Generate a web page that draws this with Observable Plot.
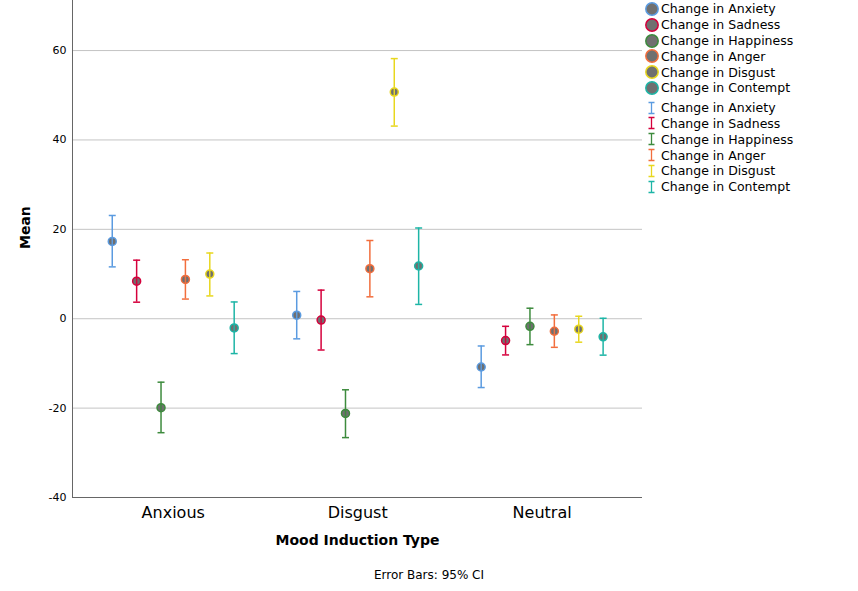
<!DOCTYPE html>
<html>
<head>
<meta charset="utf-8">
<script src="https://cdn.jsdelivr.net/npm/d3@7"></script>
<script src="https://cdn.jsdelivr.net/npm/@observablehq/plot@0.6"></script>
<style>
  html, body { margin: 0; padding: 0; background: white; }
  #wrap { position: relative; width: 858px; height: 591px; font-family: "DejaVu Sans", sans-serif; color: #000; }
  #legend { position: absolute; left: 644px; top: 1px; font-size: 12.5px; }
  .row { display: flex; align-items: center; height: 15.8px; white-space: nowrap; }
  .row svg { flex: none; margin-right: 1px; }
  .gap { height: 4px; }
  #caption { position: absolute; left: 0; width: 858px; top: 567px; text-align: center; font-size: 12px; line-height: 16px; }
</style>
</head>
<body>
<div id="wrap">
  <div id="chart"></div>
  <div id="legend"></div>
  <div id="caption">Error Bars: 95% CI</div>
</div>
<script>
const categories = ["Anxious", "Disgust", "Neutral"];
const series = ["Change in Anxiety", "Change in Sadness", "Change in Happiness", "Change in Anger", "Change in Disgust", "Change in Contempt"];
const colors = ["#5B9BE0", "#D5003C", "#3D8B3D", "#F26E3D", "#E8D71E", "#1DB5A6"];
// rows: series; columns: categories
const means = [
  [17.3, 0.8, -10.8],
  [8.4, -0.3, -4.9],
  [-19.9, -21.2, -1.7],
  [8.8, 11.2, -2.8],
  [10.0, 50.7, -2.35],
  [-2.05, 11.8, -4.05]
];
const lower = [
  [11.6, -4.5, -15.4],
  [3.7, -7.0, -8.1],
  [-25.5, -26.6, -5.8],
  [4.4, 4.9, -6.4],
  [5.1, 43.1, -5.25],
  [-7.8, 3.2, -8.15]
];
const upper = [
  [23.1, 6.1, -6.1],
  [13.1, 6.4, -1.7],
  [-14.2, -15.9, 2.35],
  [13.2, 17.5, 0.85],
  [14.7, 58.2, 0.55],
  [3.75, 20.3, 0.1]
];
const yTicks = [-40, -20, 0, 20, 40, 60];
const gridTicks = [-20, 0, 20, 40, 60];
const yDomain = [-40, 71.2];
const xDomain = [-0.546, 2.544];
const seriesStep = 0.1322;

const rows = [];
series.forEach((s, si) => {
  categories.forEach((c, ci) => {
    rows.push({
      category: c, series: s,
      x: ci + (si - (series.length - 1) / 2) * seriesStep,
      mean: means[si][ci], lo: lower[si][ci], hi: upper[si][ci]
    });
  });
});

const cap = { draw(ctx) { ctx.moveTo(-3.5, 0); ctx.lineTo(3.5, 0); } };

const chart = Plot.plot({
  width: 858, height: 555,
  marginLeft: 72, marginRight: 216, marginTop: 0, marginBottom: 58,
  style: { fontFamily: "DejaVu Sans, sans-serif", background: "white", color: "black" },
  x: { domain: xDomain, axis: null },
  y: { domain: yDomain, axis: null },
  color: { domain: series, range: colors },
  marks: [
    Plot.ruleY(gridTicks, { stroke: "#c4c4c4", strokeWidth: 1 }),
    Plot.ruleY([yDomain[0]], { stroke: "#666" }),
    Plot.ruleX([xDomain[0]], { stroke: "#666" }),
    Plot.axisY({ ticks: yTicks, tickSize: 0, tickPadding: 6, tickFormat: d => String(d), fontSize: 11, label: null }),
    Plot.axisX({ ticks: [0, 1, 2], tickSize: 0, tickPadding: 9, tickFormat: i => categories[i], fontSize: 16, label: null }),
    Plot.text(["Mean"], { frameAnchor: "left", rotate: -90, dx: -47, fontSize: 14, fontWeight: "bold" }),
    Plot.text(["Mood Induction Type"], { frameAnchor: "bottom", dy: 47, fontSize: 14, fontWeight: "bold" }),
    Plot.dot(rows, { x: "x", y: "mean", r: 4, fill: "#6f6f6f", stroke: "series", strokeWidth: 1.5 }),
    Plot.ruleX(rows, { x: "x", y1: "lo", y2: "hi", stroke: "series", strokeWidth: 1.5 }),
    Plot.dot(rows, { x: "x", y: "lo", symbol: cap, r: 4, fill: "none", stroke: "series", strokeWidth: 1.5 }),
    Plot.dot(rows, { x: "x", y: "hi", symbol: cap, r: 4, fill: "none", stroke: "series", strokeWidth: 1.5 })
  ]
});
document.getElementById("chart").appendChild(chart);

// Legend
const legend = document.getElementById("legend");
const ns = "http://www.w3.org/2000/svg";
function addRow(label, color, kind) {
  const row = document.createElement("div");
  row.className = "row";
  const svg = document.createElementNS(ns, "svg");
  svg.setAttribute("width", 16); svg.setAttribute("height", 16);
  if (kind === "dot") {
    const c = document.createElementNS(ns, "circle");
    c.setAttribute("cx", 8); c.setAttribute("cy", 8); c.setAttribute("r", 6.2);
    c.setAttribute("fill", "#707070"); c.setAttribute("stroke", color); c.setAttribute("stroke-width", 1.5);
    svg.appendChild(c);
  } else {
    const p = document.createElementNS(ns, "path");
    p.setAttribute("d", "M4.5,2.5H10.5M7.5,2.5V13.5M4.5,13.5H10.5");
    p.setAttribute("fill", "none"); p.setAttribute("stroke", color); p.setAttribute("stroke-width", 1.3);
    svg.appendChild(p);
  }
  row.appendChild(svg);
  const t = document.createElement("span");
  t.textContent = label;
  row.appendChild(t);
  legend.appendChild(row);
}
series.forEach((s, i) => addRow(s, colors[i], "dot"));
const gap = document.createElement("div"); gap.className = "gap"; legend.appendChild(gap);
series.forEach((s, i) => addRow(s, colors[i], "bar"));
</script>
</body>
</html>
